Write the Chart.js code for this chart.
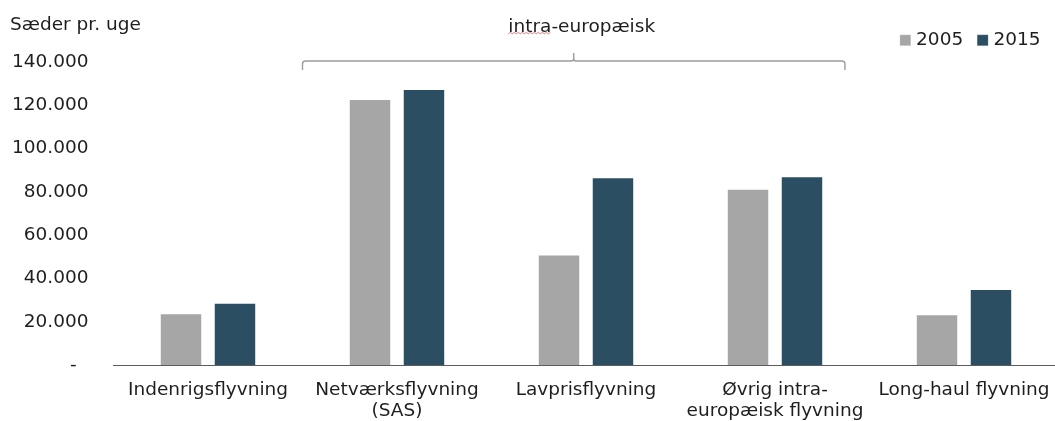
<!DOCTYPE html>
<html>
<head>
<meta charset="utf-8">
<script src="https://cdn.jsdelivr.net/npm/chart.js@4.4.1/dist/chart.umd.min.js"></script>
<style>
  html, body { margin: 0; padding: 0; background: #fff; overflow: hidden; }
  #wrap { width: 1055px; height: 421px; overflow: hidden; position: relative; }
  canvas { display: block; }
</style>
</head>
<body>
<div id="wrap"><canvas id="c" width="1059" height="424"></canvas></div>
<script>
// Seats per week by flight segment
const categories = [
  'Indenrigsflyvning',
  ['Netværksflyvning', '(SAS)'],
  'Lavprisflyvning',
  ['Øvrig intra-', 'europæisk flyvning'],
  'Long-haul flyvning'
];
const seriesNames = ['2005', '2015'];
const seats2005 = [23900, 122900, 51100, 81400, 23400];
const seats2015 = [28800, 127500, 86700, 87200, 35100];
const yMin = 0;
const yMax = 140000;
const yStep = 20000;
const axisTitle = 'Sæder pr. uge';
const groupLabel = 'intra-europæisk';
const groupFirst = 1;   // first category under the bracket
const groupLast = 3;    // last category under the bracket

const FONT = 'DejaVu Sans';
const FONT_SIZE = 18.5;
const TEXT = '#1e1e1e';
const colors = ['#a6a6a6', '#2c4e63'];

// Danish thousands separator; zero shown as a dash (accounting style)
function fmt(v) {
  if (v === 0) return '-  ';
  return String(Math.round(v)).replace(/\B(?=(\d{3})+(?!\d))/g, '.');
}

const annotations = {
  id: 'annotations',
  afterDraw(chart) {
    const ctx = chart.ctx;
    const x = chart.scales.x;
    const area = chart.chartArea;
    ctx.save();
    ctx.fillStyle = TEXT;
    ctx.font = FONT_SIZE + 'px "' + FONT + '"';
    ctx.textBaseline = 'alphabetic';

    // unit label above the value axis
    ctx.textAlign = 'left';
    ctx.fillText(axisTitle, 10, 30);

    // bracket over the intra-European segments
    const cw = x.getPixelForValue(1) - x.getPixelForValue(0);
    const left = x.getPixelForValue(groupFirst) - cw * 0.5;
    const right = x.getPixelForValue(groupLast) + cw * 0.37;
    const mid = (left + right) / 2;
    const top = area.top - 1;
    const r = 3;
    ctx.strokeStyle = '#9c9c9c';
    ctx.lineWidth = 1.4;
    ctx.beginPath();
    ctx.moveTo(left, top + 9);
    ctx.lineTo(left, top + r);
    ctx.quadraticCurveTo(left, top, left + r, top);
    ctx.lineTo(mid - 2, top);
    ctx.quadraticCurveTo(mid, top, mid, top - 3);
    ctx.lineTo(mid, top - 8);
    ctx.moveTo(mid, top - 3);
    ctx.quadraticCurveTo(mid, top, mid + 2, top);
    ctx.lineTo(right - r, top);
    ctx.quadraticCurveTo(right, top, right, top + r);
    ctx.lineTo(right, top + 9);
    ctx.stroke();

    // group caption
    const cx = mid + 8;
    const w = ctx.measureText(groupLabel).width;
    const tx = cx - w / 2;
    ctx.fillText(groupLabel, tx, 32);

    // wavy underline beneath the first word of the caption
    const w1 = ctx.measureText('intra').width;
    ctx.strokeStyle = 'rgba(235,95,95,0.85)';
    ctx.lineWidth = 1;
    ctx.beginPath();
    let up = false;
    for (let px = tx; px <= tx + w1; px += 2) {
      const py = up ? 32.4 : 33.8;
      if (px === tx) ctx.moveTo(px, py); else ctx.lineTo(px, py);
      up = !up;
    }
    ctx.stroke();
    ctx.restore();
  }
};

new Chart(document.getElementById('c'), {
  type: 'bar',
  data: {
    labels: categories,
    datasets: [
      { label: seriesNames[0], data: seats2005, backgroundColor: colors[0],
        borderColor: 'rgba(255,255,255,0.28)', borderWidth: 1,
        barPercentage: 0.787, categoryPercentage: 0.571 },
      { label: seriesNames[1], data: seats2015, backgroundColor: colors[1],
        borderColor: 'rgba(255,255,255,0.18)', borderWidth: 1,
        barPercentage: 0.787, categoryPercentage: 0.571 }
    ]
  },
  options: {
    responsive: false,
    animation: false,
    devicePixelRatio: 1,
    layout: { padding: { top: 13, left: 12, right: 0.5, bottom: 2 } },
    plugins: {
      legend: {
        position: 'top',
        align: 'end',
        labels: {
          usePointStyle: true,
          pointStyle: 'rect',
          boxWidth: 3,
          boxHeight: 11,
          padding: 18,
          color: TEXT,
          font: { family: FONT, size: FONT_SIZE }
        }
      },
      // thin spacer between the legend row and the plot
      title: {
        display: true,
        text: '',
        weight: 500,
        padding: 0,
        font: { size: 2.5, lineHeight: 1 }
      },
      tooltip: { enabled: false }
    },
    scales: {
      x: {
        grid: { display: false, drawTicks: false },
        border: { display: true, color: '#5c5c5c', width: 1 },
        ticks: {
          padding: 14,
          color: TEXT,
          maxRotation: 0,
          autoSkip: false,
          font: { family: FONT, size: FONT_SIZE, lineHeight: 1.175 }
        },
        afterFit(scale) {
          scale.height = 57;
          scale.paddingLeft = 0;
          scale.paddingRight = 0;
        }
      },
      y: {
        min: yMin,
        max: yMax,
        grid: { display: false, drawTicks: false },
        border: { display: false },
        ticks: {
          stepSize: yStep,
          padding: 25,
          color: TEXT,
          font: { family: FONT, size: FONT_SIZE },
          callback: (v) => fmt(v)
        },
        afterFit(scale) {
          scale.width = 101.5;
          scale.paddingTop = 0;
          scale.paddingBottom = 0;
        }
      }
    }
  },
  plugins: [annotations]
});
</script>
</body>
</html>
